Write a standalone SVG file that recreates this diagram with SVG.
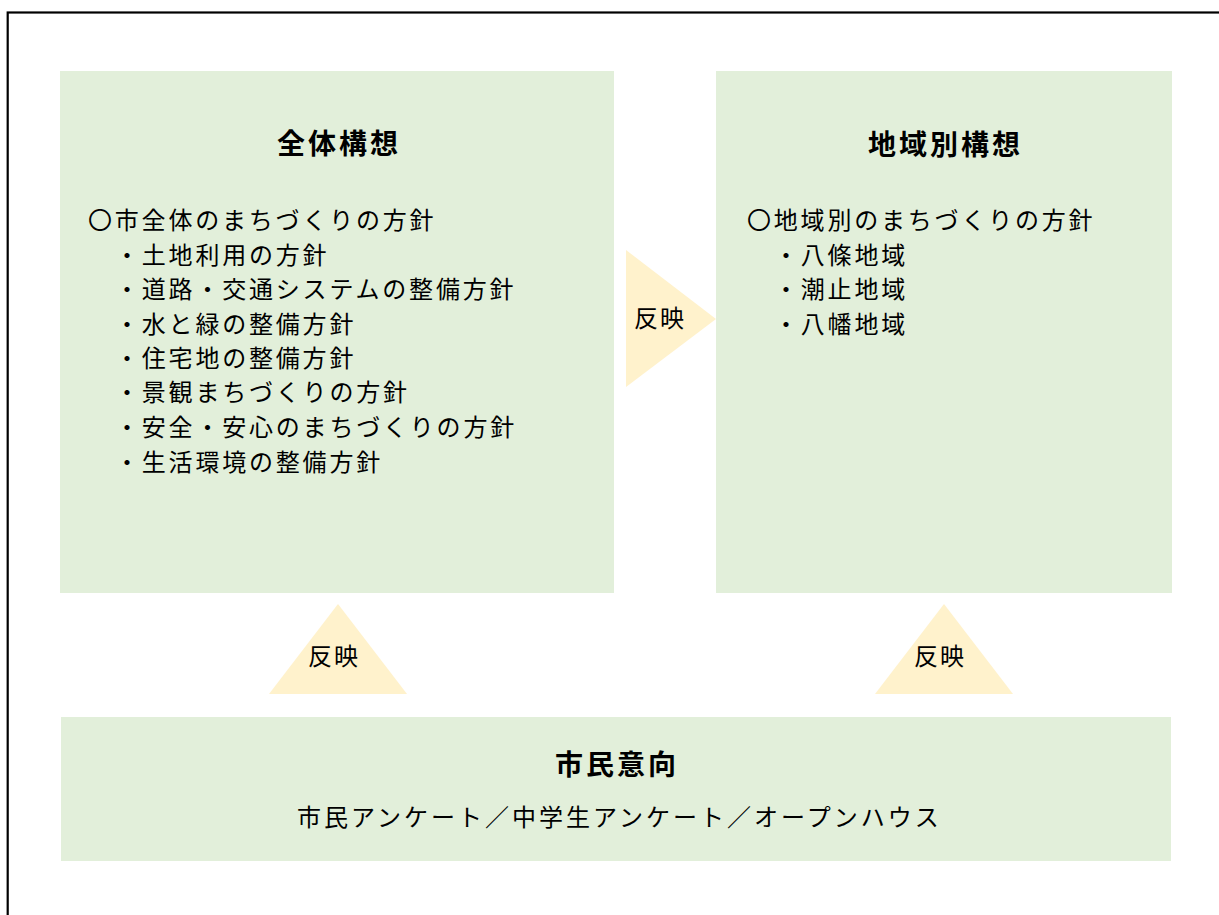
<svg xmlns="http://www.w3.org/2000/svg" width="1219" height="915" viewBox="0 0 1219 915">
<style>
.box{fill:#E2EFDA}
.arrow{fill:#FFF2CC}
.t{font-family:"Noto Sans CJK JP","Noto Sans CJK SC",sans-serif;fill:#000}
.title{font-size:28px;font-weight:bold;letter-spacing:3px;text-anchor:middle}
.body{font-size:24px;letter-spacing:2.8px}
.wide{letter-spacing:3px}
.lbl{font-size:24px;letter-spacing:2px;text-anchor:middle}
</style>
<rect x="0" y="0" width="1219" height="915" fill="#FFFFFF"/>
<rect x="7.7" y="12.5" width="1230" height="930" fill="none" stroke="#000" stroke-width="2.2"/>
<g id="connectors">
  <g id="arrow-right">
    <polygon class="arrow" points="626,250 716,319 626,387"/>
    <text class="t lbl" x="660" y="327">反映</text>
  </g>
  <g id="arrow-up-left">
    <polygon class="arrow" points="338,604 407,694 269,694"/>
    <text class="t lbl" x="334" y="665">反映</text>
  </g>
  <g id="arrow-up-right">
    <polygon class="arrow" points="944,604 1013,694 875,694"/>
    <text class="t lbl" x="940" y="665">反映</text>
  </g>
</g>
<g id="node-zentai">
  <rect class="box" x="60" y="71" width="554" height="522"/>
  <text class="t title" x="339" y="154">全体構想</text>
  <text class="t body" x="88" y="229">〇市全体のまちづくりの方針</text>
  <text class="t body" x="115" y="264">・土地利用の方針</text>
  <text class="t body" x="115" y="298">・道路・交通システムの整備方針</text>
  <text class="t body" x="115" y="333">・水と緑の整備方針</text>
  <text class="t body" x="115" y="367">・住宅地の整備方針</text>
  <text class="t body" x="115" y="401">・景観まちづくりの方針</text>
  <text class="t body" x="115" y="436">・安全・安心のまちづくりの方針</text>
  <text class="t body" x="115" y="471">・生活環境の整備方針</text>
</g>
<g id="node-chiiki">
  <rect class="box" x="716" y="71" width="456" height="522"/>
  <text class="t title" x="945.5" y="155">地域別構想</text>
  <text class="t body" x="747" y="229">〇地域別のまちづくりの方針</text>
  <text class="t body" x="774" y="264">・八條地域</text>
  <text class="t body" x="774" y="298">・潮止地域</text>
  <text class="t body" x="774" y="333">・八幡地域</text>
</g>
<g id="node-shimin">
  <rect class="box" x="61" y="717" width="1110" height="144"/>
  <text class="t title" x="617" y="775">市民意向</text>
  <text class="t body wide" x="297" y="826">市民アンケート／中学生アンケート／オープンハウス</text>
</g>
</svg>
